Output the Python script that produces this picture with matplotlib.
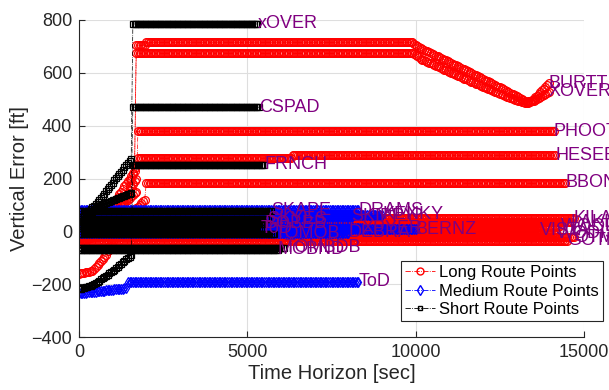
import numpy as np
import matplotlib
matplotlib.use("Agg")
import matplotlib.pyplot as plt
from matplotlib.lines import Line2D

plt.rcParams['font.family'] = ['Liberation Sans', 'DejaVu Sans']

# ---------------- data (breakpoints: time [sec], vertical error [ft]) ----------------
STEP = 50  # sampling step of the prediction horizon [sec]

# Long route trajectories
long_t = [
    [0, 400, 800, 1200, 1650, 1700, 1950, 2000, 9900, 10200, 11500, 12800, 13300, 13500, 13950],
    [0, 600, 1100, 1650, 1700, 9900, 10200, 11500, 12800, 13300, 13500, 13950],
    [0, 700, 1200, 1700, 1750, 14100],
    [0, 800, 1300, 1700, 1750, 6300, 6350, 14150],
    [0, 900, 1500, 1950, 2000, 14450],
    [0, 14700], [0, 14600], [0, 14300], [0, 13700], [0, 14200], [0, 14700], [0, 14500],
]
long_v = [
    [-160, -150, -90, 30, 240, 705, 705, 715, 715, 690, 610, 525, 490, 500, 560],
    [-30, 20, 120, 230, 675, 675, 650, 575, 505, 485, 495, 528],
    [-20, 10, 90, 150, 378, 378],
    [0, 30, 110, 200, 278, 278, 288, 288],
    [-40, 0, 60, 120, 183, 183],
    [50], [35], [20], [5], [-10], [-22], [-35],
]
long_labels = ["BURTT", "XOVER", "PHOOT", "HESEB", "BBON",
               "KILA", "LAKIA", "WOODS", "VISTA", "WODIS", "OTMAN", "GOTM"]

# Medium route trajectories
med_t = [
    [0, 1400, 1450, 8300],
    [0, 8300], [0, 8100], [0, 9000], [0, 8400], [0, 8000], [0, 10000],
]
med_v = [
    [-235, -215, -190, -190],
    [80], [55], [62], [12], [-5], [8],
]
med_labels = ["ToD", "DRAMS", "SKIPPY", "KENKY", "XPYER", "DEBRA", "BERNZ"]

# Short route trajectories
short_t = [
    [0, 550, 1550, 1600, 5300],
    [0, 550, 1550, 1600, 5350],
    [0, 400, 1000, 1550, 1600, 5500],
    [0, 5700], [0, 5600], [0, 5400], [0, 5500], [0, 5800], [0, 6100], [0, 5900],
]
short_v = [
    [40, 110, 275, 785, 785],
    [20, 95, 145, 470, 470],
    [-220, -205, -150, -90, 252, 252],
    [78], [45], [12], [28], [-10], [-62], [-70],
]
short_labels = ["xOVER", "CSPAD", "FRNCH", "SKAPE", "SKYES", "ToD", "BOBBB", "TOMOB", "TOMBDB", "MOBND"]

legend_labels = ["Long Route Points", "Medium Route Points", "Short Route Points"]


def sample(tb, vb):
    tb = np.asarray(tb, float)
    vb = np.asarray(vb, float)
    if len(tb) == 2 and len(vb) == 1:
        vb = np.array([vb[0], vb[0]])
    t = np.arange(tb[0], tb[-1] + 1, STEP)
    return t, np.interp(t, tb, vb)


fig = plt.figure(figsize=(6.09, 3.90), dpi=100)
ax = fig.add_axes([79 / 609, 53 / 390, 505 / 609, 317 / 390])

purple = '#800080'
styles = [
    (long_t, long_v, long_labels, dict(color='red', marker='o', markersize=5.6)),
    (med_t, med_v, med_labels, dict(color='blue', marker='d', markersize=5.6)),
    (short_t, short_v, short_labels, dict(color='black', marker='s', markersize=4.6)),
]
ends = []
for T, V, labs, st in styles:
    for tb, vb, lab in zip(T, V, labs):
        t, v = sample(tb, vb)
        ax.plot(t, v, linestyle='-.', linewidth=0.5, color=st['color'],
                marker=st['marker'], markersize=st['markersize'],
                markerfacecolor='none', markeredgewidth=0.9, zorder=2)
        ends.append((t[-1], v[-1], lab))

for te, ve, lab in ends:
    ax.text(te, ve, lab, color=purple, fontsize=13, ha='left', va='center',
            clip_on=False, zorder=5)

ax.set_xlim(0, 15000)
ax.set_ylim(-400, 800)
ax.set_xticks([0, 5000, 10000, 15000])
ax.set_yticks([-400, -200, 0, 200, 400, 600, 800])
ax.grid(True, color='#dedede', linewidth=0.8)
ax.set_axisbelow(True)
for s in ['top', 'right']:
    ax.spines[s].set_visible(False)
for s in ['left', 'bottom']:
    ax.spines[s].set_color('#262626')
    ax.spines[s].set_linewidth(0.8)
ax.tick_params(direction='in', length=4, width=0.8, colors='#262626',
               labelsize=13, pad=5)
ax.set_xlabel("Time Horizon [sec]", fontsize=14.5, color='#262626', labelpad=2)
ax.set_ylabel("Vertical Error [ft]", fontsize=14.5, color='#262626', labelpad=2)

handles = [
    Line2D([], [], color='red', linestyle='-.', linewidth=0.6, marker='o',
           markersize=5, markerfacecolor='none', markeredgewidth=1.0),
    Line2D([], [], color='blue', linestyle='-.', linewidth=0.6, marker='d',
           markersize=5, markerfacecolor='none', markeredgewidth=1.0),
    Line2D([], [], color='black', linestyle='-.', linewidth=0.6, marker='s',
           markersize=3.5, markerfacecolor='none', markeredgewidth=1.0),
]
leg = fig.legend(handles, legend_labels, loc='upper left',
                 bbox_to_anchor=(401 / 609, 1 - 261 / 390), fontsize=12,
                 frameon=True, fancybox=False, edgecolor='#262626',
                 handlelength=1.8, handletextpad=0.25, borderpad=0.25,
                 labelspacing=0.2, borderaxespad=0)
leg.get_frame().set_linewidth(0.8)
leg.get_frame().set_alpha(1)

fig.savefig("out.png", dpi=100)
